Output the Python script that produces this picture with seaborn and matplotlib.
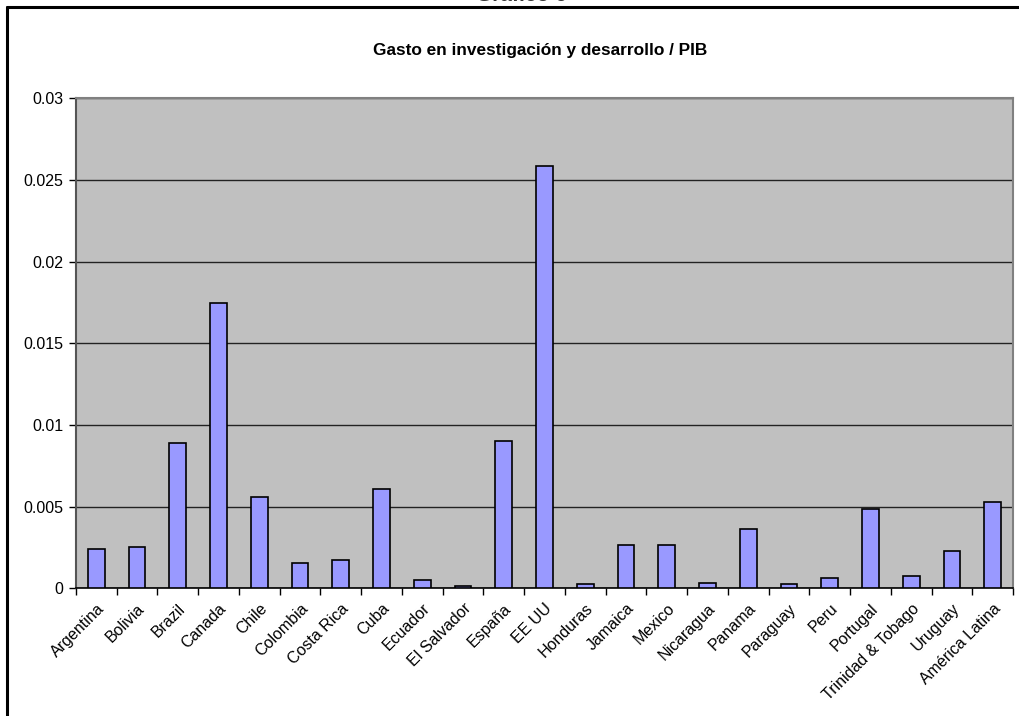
import matplotlib
matplotlib.use("Agg")
import matplotlib.pyplot as plt
from matplotlib.lines import Line2D
import seaborn as sns
import pandas as pd
import numpy as np

paises = ["Argentina", "Bolivia", "Brazil", "Canada", "Chile", "Colombia",
          "Costa Rica", "Cuba", "Ecuador", "El Salvador", "España", "EE UU",
          "Honduras", "Jamaica", "Mexico", "Nicaragua", "Panama", "Paraguay",
          "Peru", "Portugal", "Trinidad & Tobago", "Uruguay", "América Latina"]
gasto_pib = [0.00239, 0.00255, 0.00892, 0.01749, 0.00561, 0.00152,
             0.00173, 0.00610, 0.00049, 0.00016, 0.00904, 0.02588,
             0.00026, 0.00265, 0.00265, 0.00034, 0.00365, 0.00028,
             0.00063, 0.00488, 0.00075, 0.00227, 0.00530]
y_ticks = [0, 0.005, 0.01, 0.015, 0.02, 0.025, 0.03]
y_labels = ["0", "0.005", "0.01", "0.015", "0.02", "0.025", "0.03"]

sns.set_theme(style="white")
plt.rcParams["font.family"] = ["Liberation Sans", "DejaVu Sans"]
plt.rcParams["text.color"] = "black"
plt.rcParams["xtick.color"] = "black"
plt.rcParams["ytick.color"] = "black"

df = pd.DataFrame({"pais": paises, "valor": gasto_pib})

W, H = 1019, 716
fig = plt.figure(figsize=(W / 100, H / 100), dpi=100)
fig.patch.set_facecolor("white")
ax = fig.add_axes([76 / W, 1 - 588.3 / H, 937 / W, 489.8 / H])
ax.set_facecolor("#C0C0C0")

n = len(paises)
sns.barplot(data=df, x="pais", y="valor", color="#9999FF", saturation=1,
            width=0.41, edgecolor="black", linewidth=1.2, ax=ax, zorder=3)
ax.set_xlim(-0.5, n - 0.5)

ax.set_ylim(0, 0.03)
ax.set_yticks(y_ticks)
ax.set_yticklabels(y_labels, fontsize=11.5)
ax.yaxis.grid(True, color="#222222", linewidth=1.0, zorder=1)
ax.set_axisbelow(True)

ax.set_xticks(range(n))
ax.set_xticklabels(paises, rotation=45, ha="right", rotation_mode="anchor",
                   fontsize=11.5)
ax.set_xticks(np.arange(-0.5, n, 1.0), minor=True)
ax.tick_params(axis="x", which="major", length=0, pad=9, labelcolor="black")
ax.tick_params(axis="x", which="minor", length=5, width=1, color="black",
               direction="out", bottom=True)
ax.tick_params(axis="y", which="major", length=5, width=1, color="black",
               direction="out", left=True, pad=4, labelcolor="black")
ax.set_xlabel("")
ax.set_ylabel("")

for side in ["top", "right"]:
    ax.spines[side].set_color("#808080")
    ax.spines[side].set_linewidth(1.5)
ax.spines["left"].set_color("#555555")
ax.spines["left"].set_linewidth(1.5)
ax.spines["bottom"].set_color("black")
ax.spines["bottom"].set_linewidth(1.2)

fig.text(540 / W, 1 - 50 / H, "Gasto en investigación y desarrollo / PIB",
         ha="center", va="center", fontsize=12.4, fontweight="bold",
         color="black")
fig.text(521 / W, 1 - 1.0 / H, "Gráfico 6", ha="center", va="baseline",
         fontsize=15, fontweight="bold", color="#333333")

# frame around the chart area
fig.add_artist(Line2D([7 / W, 1.0], [1 - 7 / H, 1 - 7 / H],
                      transform=fig.transFigure, color="black", linewidth=2.2))
fig.add_artist(Line2D([7 / W, 7 / W], [0, 1 - 7 / H],
                      transform=fig.transFigure, color="black", linewidth=2.2))

fig.savefig("out.png", dpi=100)
